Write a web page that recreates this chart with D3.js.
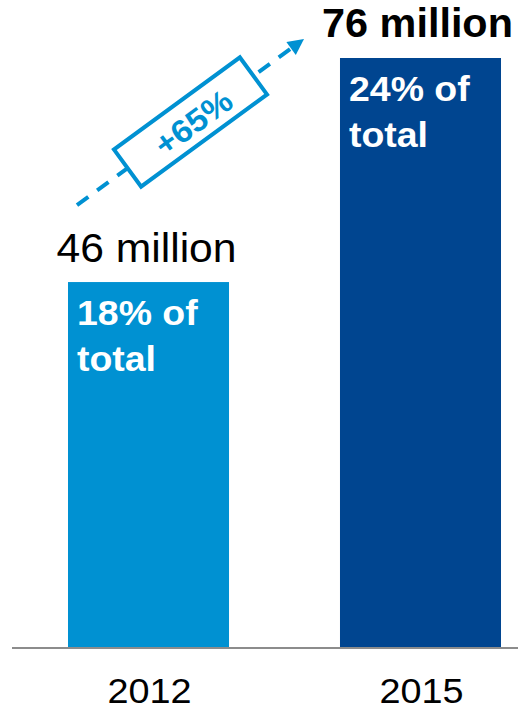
<!DOCTYPE html>
<html>
<head>
<meta charset="utf-8">
<script src="https://cdn.jsdelivr.net/npm/d3@7"></script>
<style>
  html, body { margin: 0; padding: 0; background: #fff; }
  svg { display: block; font-family: Arial, "Liberation Sans", Helvetica, sans-serif; }
</style>
</head>
<body>
<div id="chart"></div>
<script>
const categories = ["2012", "2015"];
const values = [46, 76];
const valueLabels = ["46 million", "76 million"];
const shareLabels = [["18% of", "total"], ["24% of", "total"]];
const growthLabel = "+65%";
const colors = ["#0091d2", "#004590"];

const W = 518, H = 710;
const svg = d3.select("#chart").append("svg").attr("width", W).attr("height", H);

const x = d3.scaleBand().domain(categories).range([0, 569]).paddingInner(0.408).paddingOuter(0.25);
const y = d3.scaleLinear().domain([-3, 76]).range([648, 58]);
const base = y.range()[0];

// bars
svg.selectAll("rect.bar").data(categories).enter().append("rect")
  .attr("class", "bar")
  .attr("x", d => x(d))
  .attr("y", (d, i) => y(values[i]))
  .attr("width", x.bandwidth())
  .attr("height", (d, i) => base - y(values[i]))
  .attr("fill", (d, i) => colors[i]);

// baseline
svg.append("line")
  .attr("x1", 12).attr("x2", W)
  .attr("y1", base).attr("y2", base)
  .attr("stroke", "#8c8c8c").attr("stroke-width", 2);

// category labels
svg.selectAll("text.cat").data(categories).enter().append("text")
  .attr("class", "cat")
  .attr("transform", d => `translate(${x(d) + x.bandwidth() / 2 + 1},703) scale(1.08,1)`)
  .attr("text-anchor", "middle")
  .attr("font-size", 35)
  .attr("fill", "#000")
  .text(d => d);

// value labels
svg.selectAll("text.val").data(categories).enter().append("text")
  .attr("class", "val")
  .attr("transform", (d, i) => {
    const tx = x(d) + x.bandwidth() / 2 - (i === 0 ? 2 : 3);
    const ty = i === 0 ? y(values[i]) - 20 : y(values[i]) - 21;
    const sx = i === 0 ? 1.04 : 1.035;
    return `translate(${tx},${ty}) scale(${sx},1)`;
  })
  .attr("text-anchor", "middle")
  .attr("font-size", (d, i) => i === 0 ? 41 : 40)
  .attr("font-weight", (d, i) => i === 0 ? "normal" : "bold")
  .attr("fill", "#000")
  .text((d, i) => valueLabels[i]);

// share labels inside bars
categories.forEach((d, i) => {
  const t = svg.append("text")
    .attr("transform", `translate(${x(d) + 9},${y(values[i]) + 43}) scale(1.07,1)`)
    .attr("font-size", 35)
    .attr("font-weight", "bold")
    .attr("fill", "#fff");
  shareLabels[i].forEach((line, j) => {
    t.append("tspan")
      .attr("x", 0)
      .attr("y", j * 46)
      .text(line);
  });
});

// growth arrow
const x0 = x(categories[0]) + 9, y0 = y(values[0]) - 77;
const x1 = x(categories[1]) - 36, y1 = y(values[1]) - 19;
const ang = Math.atan2(y1 - y0, x1 - x0);
const angDeg = ang * 180 / Math.PI;
const headLen = 16, headHalf = 8;
const bx = x1 - headLen * Math.cos(ang), by = y1 - headLen * Math.sin(ang);
const blue = colors[0];

svg.append("line")
  .attr("x1", x0).attr("y1", y0)
  .attr("x2", bx).attr("y2", by)
  .attr("stroke", blue).attr("stroke-width", 4)
  .attr("stroke-dasharray", "14,11");

const px = -Math.sin(ang), py = Math.cos(ang);
svg.append("path")
  .attr("d", `M${x1},${y1} L${bx + px * headHalf},${by + py * headHalf} L${bx - px * headHalf},${by - py * headHalf} Z`)
  .attr("fill", blue);

const mx = (x0 + x1) / 2, my = (y0 + y1) / 2;
const g = svg.append("g").attr("transform", `translate(${mx},${my}) rotate(${angDeg})`);
g.append("rect")
  .attr("x", -78).attr("y", -23)
  .attr("width", 156).attr("height", 46)
  .attr("fill", "#fff")
  .attr("stroke", blue).attr("stroke-width", 4);
g.append("text")
  .attr("transform", "translate(2,2) scale(1.06,1)")
  .attr("text-anchor", "middle")
  .attr("dominant-baseline", "central")
  .attr("font-size", 32)
  .attr("font-weight", "bold")
  .attr("fill", blue)
  .text(growthLabel);
</script>
</body>
</html>
